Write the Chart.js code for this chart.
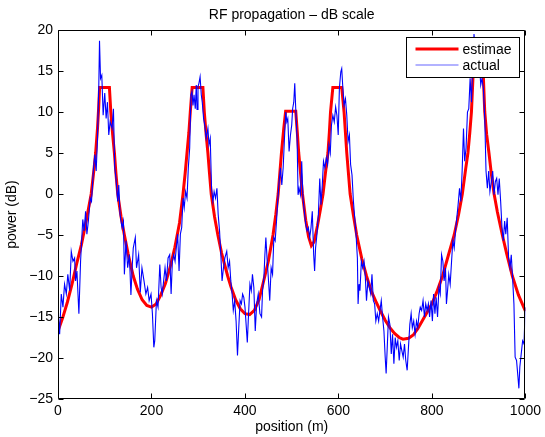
<!DOCTYPE html>
<html>
<head>
<meta charset="utf-8">
<script src="https://cdn.jsdelivr.net/npm/chart.js@4.4.0/dist/chart.umd.min.js"></script>
<style>
  html, body { margin: 0; padding: 0; background: #fff; }
</style>
</head>
<body>
<canvas id="rfChart" width="545" height="437"></canvas>
<script>
// estimate (red)
const estX = [0, 10, 20, 30, 40, 50, 60, 71, 77, 80.5, 84.5, 87, 89, 110, 113, 117, 120.7, 124, 127.8, 135,
  142, 150, 161, 170, 180, 190, 200, 210, 220, 230, 240, 250, 260, 267.5, 272, 276, 280, 283, 287, 310,
  313, 317, 320.7, 324, 327.8, 335, 342, 350, 363, 370, 380, 390, 400, 410, 420, 430, 442.6, 450, 460, 466,
  471, 478, 483, 487, 508.6, 512, 515, 519, 523, 530, 536, 542, 548, 555, 561, 567, 572, 577.5, 580.5, 583,
  588, 607, 612, 617.8, 625, 632, 639, 650, 660, 670, 680, 690, 700, 710, 720, 730, 738, 750, 760, 770,
  780, 790, 800, 810, 822.7, 835, 847.6, 857, 865, 872, 877, 881, 884.5, 888, 890, 908, 910, 913, 917, 922,
  927, 933, 940, 950.6, 960, 972, 985, 1000]
const estY = [-16.7, -15.1, -13.2, -11.0, -8.5, -6.2, -3.4, 0, 3, 5, 8, 10.5, 13, 13, 10, 7.2, 5, 2.5, 0, -2.8,
  -5, -7.3, -10, -11.6, -12.9, -13.6, -13.8, -13.4, -12.3, -10.9, -8.9, -6.5, -3.5, 0, 2.5, 5, 7.5, 10, 13, 13,
  10, 7.2, 5, 2.6, 0, -2.8, -5, -7.2, -10, -11.3, -12.9, -14.0, -14.6, -14.7, -14.2, -12.9, -10, -8.2, -5, -2.5,
  0, 5, 8, 10.1, 10.1, 7.5, 5, 2.5, 0, -3.2, -5.2, -6.3, -5.8, -3.9, -2.0, 0, 2.5, 5, 7.5, 10,
  13, 13, 10, 5, 0, -2.6, -5, -7.9, -10, -11.8, -13.1, -14.3, -15.4, -16.3, -17.0, -17.5, -17.7, -17.6, -17.2, -16.4,
  -15.4, -14.4, -13.4, -12.0, -10, -7.5, -5, -2.5, 0, 3, 5, 7.5, 10, 14.5, 16.5, 16.5, 14.3, 10, 7.3, 5,
  2.5, 0, -2.2, -5, -7.3, -10, -12.3, -14.3]

// actual (blue) - measured, noisy
const actX = [0, 3.5, 7, 10.6, 14, 17.8, 21, 25, 28.4, 32, 35.5, 37.6, 40.5, 44.7, 48.3, 53, 56, 59, 61.8, 65,
  69, 71.7, 76, 78.8, 81.7, 84.5, 87.3, 88.8, 91, 93.7, 96.6, 100, 103, 105.8, 108.6, 111.5, 115.7, 118.6, 121.4, 124,
  127.8, 130, 132.8, 137, 140, 142, 145.6, 149, 152.7, 156, 159, 161, 165.4, 168, 172.5, 176, 179.6, 184, 188, 191.7,
  195, 199, 202, 205, 207, 210.6, 214, 217.8, 220.6, 223, 226, 229, 232, 235.5, 239, 242, 244.7, 247.6, 250.4, 253,
  256, 259, 261.8, 264.6, 267.5, 270, 273, 276, 278.8, 281.7, 284.5, 286.6, 288.8, 291, 293.7, 295.8, 297.5, 299.5, 301.5, 304,
  306.5, 308.6, 311.5, 314, 317, 320.7, 323, 325.7, 328.5, 331.4, 334, 337, 340, 342.7, 345.6, 348.4, 351, 354, 357, 361,
  364, 367, 369.7, 372.5, 375, 378, 381, 384, 386.7, 389.6, 392.4, 395, 397.5, 400, 402, 405, 407, 410.6, 413.5, 416,
  419, 422, 425, 428.4, 432, 435.5, 437.6, 440.5, 442.6, 444.7, 447.6, 450.4, 453, 456, 459, 461.8, 464.6, 467.5, 470, 473,
  476, 478.8, 481.7, 484.5, 487.3, 489.5, 491.6, 494.4, 497.3, 500, 502, 504.4, 506.5, 508.6, 511.5, 513.6, 515.7, 518.6, 521.4, 524,
  527, 530, 532.8, 535.6, 538.5, 541.3, 544, 547, 549, 551, 554, 557, 560, 562.6, 565.4, 568, 571, 574, 576.8, 579.6,
  582.5, 585, 588, 591, 594, 596.7, 599.5, 602, 605, 607, 609, 612, 615, 617.8, 620.6, 623.4, 626, 629, 632, 634.8,
  637.6, 640.5, 642, 644, 646, 649, 651.8, 654.7, 657.5, 660, 663, 666, 669, 671.7, 674.6, 677.4, 680, 683, 686, 688.8,
  691.6, 694.4, 697.3, 700, 702, 704.4, 707, 710, 713, 715.7, 718.6, 721.4, 724, 727, 730, 732.8, 735.6, 738.5, 741.3, 744,
  747, 749.8, 752.7, 755.5, 758, 761, 764, 767, 769.7, 772.5, 775, 778, 781, 784, 786.7, 789.6, 792.4, 795, 798, 801,
  803.5, 806.4, 809, 812, 815, 817.8, 820.6, 823.4, 826, 829, 831, 833.4, 836, 839, 842, 844.7, 847.6, 850.4, 853, 856,
  859, 861.8, 864.6, 867.5, 870, 873, 876, 878.8, 881.7, 884.5, 887.3, 890, 893, 897, 901, 904.4, 907, 910, 913, 915.7,
  918.6, 921.4, 924, 927, 930, 932.8, 935.6, 938.5, 941.3, 944, 947, 949.8, 952.7, 955.5, 958, 961, 964, 967, 969.7, 972.5,
  975.4, 978, 981, 984, 986, 988, 991, 994, 997, 999.5]
const actY = [-14.2, -17.1, -12.2, -13.8, -11.0, -12.2, -9.8, -11.8, -7.0, -8.2, -7.8, -10.6, -9.4, -14.6, -8.2, -3.1, -4.5, -2.1, -4.9, -3.3,
  -0.5, -0.9, 3.2, 4.8, 2.8, 6.8, 13.3, 18.7, 14.1, 14.5, 9.6, 12.3, 9.2, 11.2, 7.2, 8.8, 8.0, 10.4, 3.2, 1.9,
  -0.9, 1.1, -2.5, -4.1, -3.3, -9.8, -5.7, -9.0, -7.4, -12.3, -8.6, -6.6, -5.3, -9.0, -7.4, -12.0, -9.0, -10.6, -12.2, -11.4,
  -13.0, -12.2, -14.6, -18.7, -17.9, -13.0, -13.8, -8.6, -11.4, -12.2, -10.6, -9.0, -10.6, -7.8, -7.4, -12.2, -8.2, -7.4, -8.2, -6.6,
  -4.9, -9.4, -4.9, -4.1, -0.5, -1.7, 0.3, -0.5, 3.2, 5.6, 12.1, 12.5, 10.8, 12.1, 10.4, 13.3, 10.3, 13.1, 13.5, 14.3,
  12.1, 11.2, 9.2, 8.4, 6.8, 8.0, 6.0, 6.8, 0.7, -0.9, 0.3, -0.5, 0.7, -2.5, -4.5, -7.4, -10.6, -9.0, -7.8, -7.0,
  -9.0, -8.2, -10.6, -12.2, -14.2, -13.0, -15.5, -19.7, -16.3, -13.0, -13.4, -12.2, -12.6, -13.8, -15.5, -18.1, -15.5, -11.0, -11.8, -9.8,
  -11.4, -16.7, -13.4, -12.2, -14.6, -15.0, -11.8, -10.2, -7.4, -5.3, -8.2, -10.6, -13.0, -9.0, -9.8, -5.3, -5.7, -3.3, -0.9, 1.5,
  3.2, 1.1, 3.2, 6.8, 10.0, 8.8, 9.2, 5.2, 7.2, 8.4, 10.4, 11.2, 13.5, 10.4, 6.8, -0.1, 0.7, -0.1, 4.0, -0.5,
  -2.1, -3.7, -4.5, -4.1, -5.3, -4.1, -2.1, -7.4, -9.4, -6.6, -4.9, -2.5, 1.9, -1.3, 1.1, 4.0, 3.2, 4.4, 3.6, 6.0,
  5.0, 8.4, 9.6, 8.8, 10.6, 9.6, 7.2, 12.9, 14.9, 15.3, 13.3, 10.8, 11.6, 9.6, 6.4, 7.2, 3.6, 2.3, -0.9, -2.9,
  -4.9, -7.8, -13.4, -11.0, -11.8, -8.2, -9.0, -8.2, -10.2, -13.0, -10.6, -11.4, -12.2, -9.8, -13.0, -13.4, -15.5, -14.6, -15.5, -14.2,
  -13.0, -15.0, -16.7, -19.9, -21.9, -18.7, -15.0, -15.9, -19.5, -17.1, -20.7, -17.5, -18.7, -17.9, -20.3, -18.3, -19.1, -19.9, -18.3, -20.3,
  -21.5, -18.7, -15.9, -14.6, -16.3, -15.5, -17.1, -15.5, -16.3, -14.6, -13.8, -14.2, -13.0, -15.0, -13.4, -14.2, -13.4, -15.0, -13.0, -15.5,
  -12.2, -14.6, -12.6, -15.0, -11.4, -12.2, -7.4, -8.2, -10.6, -9.0, -13.4, -11.8, -9.8, -11.0, -8.2, -5.7, -6.6, -4.5, -3.0, -1.3,
  0.7, -0.9, 2.8, 8.0, 4.0, 5.6, 10.0, 10.4, 14.1, 11.2, 15.7, 19.5, 17.0, 15.5, 16.5, 13.3, 14.1, 12.9, 9.2, 2.8,
  0.7, 2.8, 0.3, 1.5, 2.8, -0.1, 1.5, 1.9, -0.1, 1.9, -0.9, -4.1, -5.7, -3.3, -4.9, -2.9, -7.8, -9.0, -7.4, -10.2,
  -13.4, -19.9, -20.3, -22.3, -23.7, -21.1, -19.5, -17.9, -18.3, -13.8]

const xTicks = [0, 200, 400, 600, 800, 1000]
const yTicks = [-25, -20, -15, -10, -5, 0, 5, 10, 15, 20]

Chart.defaults.font.family = '"Liberation Sans", Arial, Helvetica, sans-serif'
Chart.defaults.font.size = 14
Chart.defaults.color = '#000'

function toPoints(xs, ys) {
  return xs.map(function (x, i) { return { x: x, y: ys[i] } })
}

// no thousands separator, real minus sign
function tickText(v) {
  return v < 0 ? '\u2212' + Math.abs(v) : String(v)
}

// matlab style box, inward ticks and the legend inside the axes
const matlabBox = {
  id: 'matlabBox',
  afterDraw(chart) {
    const ctx = chart.ctx
    const a = chart.chartArea
    const sx = chart.scales.x
    const sy = chart.scales.y
    const tick = 5
    const L = Math.round(a.left) + 0.5, R = Math.round(a.right) - 0.5
    const T = Math.round(a.top) + 0.5, B = Math.round(a.bottom) - 0.5

    ctx.save()
    ctx.strokeStyle = '#000'
    ctx.lineWidth = 1
    ctx.beginPath()
    ctx.rect(L, T, R - L, B - T)
    xTicks.forEach(function (v) {
      const p = Math.round(sx.getPixelForValue(v)) + 0.5
      ctx.moveTo(p, B); ctx.lineTo(p, B - tick)
      ctx.moveTo(p, T); ctx.lineTo(p, T + tick)
    })
    yTicks.forEach(function (v) {
      const p = Math.round(sy.getPixelForValue(v)) + 0.5
      ctx.moveTo(L, p); ctx.lineTo(L + tick, p)
      ctx.moveTo(R, p); ctx.lineTo(R - tick, p)
    })
    ctx.stroke()

    // legend
    const bw = 113, bh = 40
    const bx = Math.round(a.right) - 119 + 0.5
    const by = Math.round(a.top) + 7 + 0.5
    ctx.fillStyle = '#fff'
    ctx.fillRect(bx, by, bw, bh)
    ctx.strokeRect(bx, by, bw, bh)
    ctx.font = '14px "Liberation Sans", Arial, sans-serif'
    ctx.textBaseline = 'middle'
    chart.data.datasets.forEach(function (ds, i) {
      const ly = by + 11.5 + i * 16
      ctx.strokeStyle = ds.borderColor
      ctx.globalAlpha = i === 0 ? 1 : 0.6
      ctx.lineWidth = ds.borderWidth
      ctx.beginPath()
      ctx.moveTo(bx + 9, ly)
      ctx.lineTo(bx + 52, ly)
      ctx.stroke()
      ctx.globalAlpha = 1
      ctx.fillStyle = '#000'
      ctx.fillText(ds.label, bx + 56, ly + 1)
    })
    ctx.restore()
  }
}

const config = {
  type: 'line',
  data: {
    datasets: [{
      label: 'estimae',
      data: toPoints(estX, estY),
      borderColor: '#ff0000',
      borderWidth: 3,
      pointRadius: 0,
      tension: 0,
      order: 2
    }, {
      label: 'actual',
      data: toPoints(actX, actY),
      borderColor: '#0000ff',
      borderWidth: 1.1,
      pointRadius: 0,
      tension: 0,
      order: 1
    }]
  },
  options: {
    responsive: false,
    animation: false,
    layout: { padding: { left: 0, right: 18, top: 0, bottom: 0 } },
    plugins: {
      legend: { display: false },
      tooltip: { enabled: false },
      title: {
        display: true,
        fullSize: false,
        text: 'RF propagation \u2013 dB scale',
        font: { size: 14, weight: 'normal' },
        color: '#000',
        padding: { top: 6.6, bottom: 6.6 }
      }
    },
    scales: {
      x: {
        type: 'linear',
        min: 0,
        max: 1000,
        afterFit: function (s) { s.height = 38 },
        ticks: { stepSize: 200, padding: 4, maxRotation: 0, color: '#000', callback: tickText },
        grid: { display: false, drawTicks: false },
        border: { display: false },
        title: { display: true, text: 'position (m)', color: '#000', padding: { top: 0, bottom: 1 } }
      },
      y: {
        min: -25,
        max: 20,
        afterFit: function (s) { s.width = 58 },
        ticks: { stepSize: 5, padding: 5, color: '#000', callback: tickText },
        grid: { display: false, drawTicks: false },
        border: { display: false },
        title: { display: true, text: 'power (dB)', color: '#000', padding: { top: 4, bottom: 0 } }
      }
    }
  },
  plugins: [matlabBox]
}

const rfChart = new Chart(document.getElementById('rfChart'), config)
</script>
</body>
</html>
